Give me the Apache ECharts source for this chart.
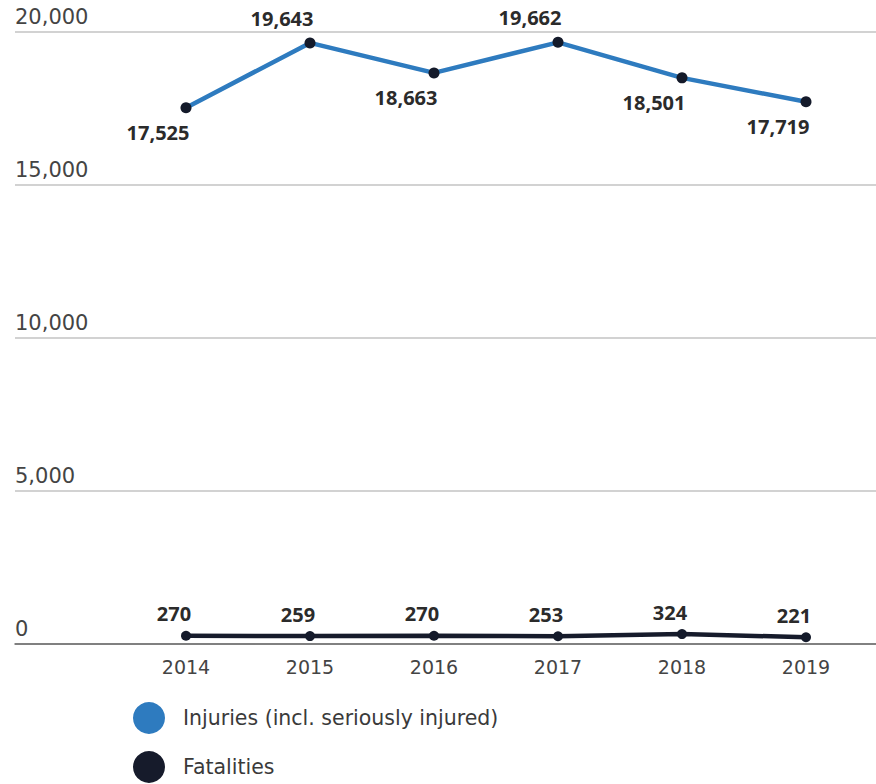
<!DOCTYPE html>
<html>
<head>
<meta charset="utf-8">
<script src="https://cdn.jsdelivr.net/npm/echarts@6/dist/echarts.min.js"></script>
<style>html,body{margin:0;padding:0;background:#fff}#c{width:876px;height:784px}</style>
</head>
<body>
<div id="c"></div>
<script>
const years = ['2014', '2015', '2016', '2017', '2018', '2019'];
const injuries = [17525, 19643, 18663, 19662, 18501, 17719];
const fatalities = [270, 259, 270, 253, 324, 221];
const yTicks = [0, 5000, 10000, 15000, 20000];
const seriesNames = ['Injuries (incl. seriously injured)', 'Fatalities'];

const AXFONT = '"DejaVu Sans", sans-serif';
const FONT = '"Noto Sans", sans-serif';
const BLUE = '#2e7bbf';
const DARK = '#161b2b';
const fmt = v => v.toLocaleString('en-US');

function peakPos(arr, i) {
  const prev = i > 0 ? arr[i - 1] : -Infinity;
  const next = i < arr.length - 1 ? arr[i + 1] : -Infinity;
  return (arr[i] > prev && arr[i] > next) ? 'top' : 'bottom';
}

const legendCommon = {
  left: 128, itemWidth: 32, itemHeight: 32, icon: 'circle',
  textStyle: {fontFamily: AXFONT, fontSize: 20.5, color: '#3a3a3a', padding: [0, 0, 0, 13]}
};

const chart = echarts.init(document.getElementById('c'), null, {renderer: 'svg'});
chart.setOption({
  animation: false,
  legend: [
    Object.assign({top: 697, data: [{name: seriesNames[0], itemStyle: {color: BLUE}}]}, legendCommon),
    Object.assign({top: 746, data: [{name: seriesNames[1], itemStyle: {color: DARK}}]}, legendCommon)
  ],
  grid: [
    {left: 15, right: 0, top: 32, bottom: 140},
    {left: 124, right: 8, top: 32, bottom: 140}
  ],
  xAxis: [
    {gridIndex: 0, type: 'value', min: 0, max: 1, show: true,
     axisLine: {show: true, lineStyle: {color: '#666', width: 1.5}},
     axisTick: {show: false}, axisLabel: {show: false}, splitLine: {show: false}},
    {gridIndex: 1, type: 'category', data: years, boundaryGap: true,
     axisLine: {show: false}, axisTick: {show: false}, splitLine: {show: false},
     axisLabel: {fontFamily: AXFONT, fontSize: 19, color: '#444', margin: 13}}
  ],
  yAxis: [
    {gridIndex: 0, type: 'value', min: yTicks[0], max: yTicks[yTicks.length - 1], interval: 5000,
     axisLine: {show: false}, axisTick: {show: false},
     splitLine: {show: true, lineStyle: {color: '#d2d2d2', width: 2}},
     axisLabel: {inside: true, margin: 0, verticalAlign: 'bottom', padding: [0, 0, 5, 0],
                 fontFamily: AXFONT, fontSize: 21, color: '#444',
                 formatter: v => fmt(v)}},
    {gridIndex: 1, type: 'value', min: yTicks[0], max: yTicks[yTicks.length - 1], interval: 5000,
     show: false, splitLine: {show: false}}
  ],
  series: [
    {
      name: seriesNames[0], type: 'line', xAxisIndex: 1, yAxisIndex: 1,
      data: injuries.map((v, i) => ({value: v, label: {position: peakPos(injuries, i)}})),
      lineStyle: {color: BLUE, width: 4.5},
      itemStyle: {color: '#141a2a'},
      symbol: 'circle', symbolSize: 11,
      label: {show: true, distance: 9, offset: [-28, 0], fontFamily: FONT, fontWeight: 'bold', fontSize: 20,
              color: '#2b2b2b', formatter: p => fmt(p.value)}
    },
    {
      name: seriesNames[1], type: 'line', xAxisIndex: 1, yAxisIndex: 1,
      data: fatalities,
      lineStyle: {color: DARK, width: 4.5},
      itemStyle: {color: '#141a2a'},
      symbol: 'circle', symbolSize: 10,
      label: {show: true, position: 'top', distance: 7, offset: [-12, 0], fontFamily: FONT, fontWeight: 'bold', fontSize: 20,
              color: '#2b2b2b', formatter: p => fmt(p.value)}
    }
  ]
});
</script>
</body>
</html>
